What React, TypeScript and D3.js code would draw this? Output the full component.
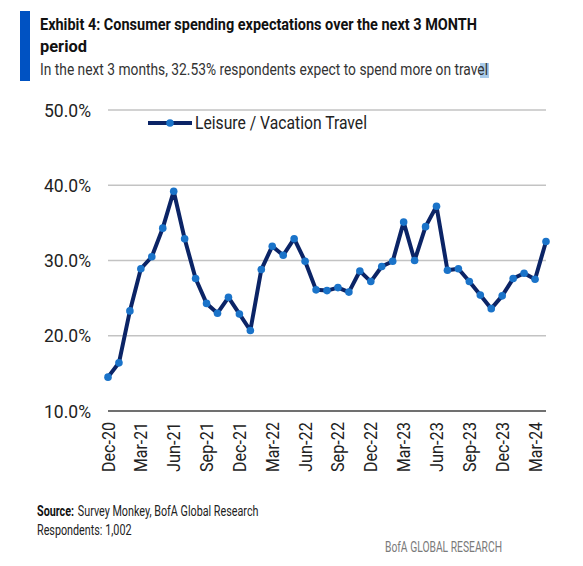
import React from "react";
import * as d3 from "d3";

const months = [
  "Dec-20",
  "Jan-21","Feb-21","Mar-21","Apr-21","May-21","Jun-21","Jul-21","Aug-21","Sep-21","Oct-21","Nov-21","Dec-21",
  "Jan-22","Feb-22","Mar-22","Apr-22","May-22","Jun-22","Jul-22","Aug-22","Sep-22","Oct-22","Nov-22","Dec-22",
  "Jan-23","Feb-23","Mar-23","Apr-23","May-23","Jun-23","Jul-23","Aug-23","Sep-23","Oct-23","Nov-23","Dec-23",
  "Jan-24","Feb-24","Mar-24","Apr-24",
];

const travelValues = [
  14.5,
  16.4, 23.3, 28.9, 30.5, 34.3, 39.2, 32.9, 27.6, 24.3, 23.0, 25.1, 22.9,
  20.7, 28.8, 31.9, 30.7, 32.9, 29.9, 26.1, 26.0, 26.4, 25.8, 28.6, 27.2,
  29.2, 29.9, 35.1, 30.0, 34.5, 37.2, 28.7, 28.9, 27.2, 25.4, 23.6, 25.3,
  27.6, 28.3, 27.5, 32.53,
];

const xTickLabels = [
  "Dec-20","Mar-21","Jun-21","Sep-21","Dec-21","Mar-22","Jun-22",
  "Sep-22","Dec-22","Mar-23","Jun-23","Sep-23","Dec-23","Mar-24",
];

const yTicks = [10, 20, 30, 40, 50];
const seriesName = "Leisure / Vacation Travel";

const titleLine1 = "Exhibit 4: Consumer spending expectations over the next 3 MONTH";
const titleLine2 = "period";
const subtitle = "In the next 3 months, 32.53% respondents expect to spend more on travel";

const LINE = "#0b2466";
const MARKER = "#1a73c9";
const FONT = "'Roboto', sans-serif";

export default function App() {
  const x = d3.scalePoint<string>().domain(months).range([108, 546]);
  const y = d3.scaleLinear().domain([10, 50]).range([411, 110]);

  const line = d3
    .line<number>()
    .x((_, i) => x(months[i]) as number)
    .y((d) => y(d));

  return (
    <svg
      width={583}
      height={566}
      style={{ position: "absolute", left: 0, top: 0, background: "#fff" }}
      fontFamily={FONT}
    >
      <rect x={0} y={0} width={583} height={566} fill="#fff" />
      {/* header */}
      <rect x={20} y={11} width={10} height={70} fill="#0052c2" />
      <text x={40} y={30} fontSize={17} fontWeight="bold" fill="#111" textLength={437} lengthAdjust="spacingAndGlyphs">
        {titleLine1}
      </text>
      <text x={40} y={52} fontSize={17} fontWeight="bold" fill="#111" textLength={47} lengthAdjust="spacingAndGlyphs">
        {titleLine2}
      </text>
      <rect x={480} y={63} width={9} height={15} fill="#a9cbea" />
      <text x={40} y={75} fontSize={16} fill="#333" textLength={448} lengthAdjust="spacingAndGlyphs">
        {subtitle}
      </text>

      {/* gridlines */}
      {yTicks.filter((t) => t !== 10).map((t) => (
        <line key={t} x1={108} x2={546} y1={y(t)} y2={y(t)} stroke="#c3c3c3" strokeWidth={1.5} />
      ))}
      <line x1={108} x2={546} y1={y(10)} y2={y(10)} stroke="#404040" strokeWidth={1.5} />

      {/* y labels */}
      {yTicks.map((t) => (
        <text key={t} x={91} y={y(t) + 6.5} textAnchor="end" fontSize={18} fill="#222" textLength={47} lengthAdjust="spacingAndGlyphs">
          {t.toFixed(1) + "%"}
        </text>
      ))}

      {/* x labels */}
      {xTickLabels.map((m) => {
        const px = (x(m) as number) + 6.5;
        return (
          <text key={m} transform={`translate(${px},422) rotate(-90)`} textAnchor="end" fontSize={17.5} fill="#222" textLength={50} lengthAdjust="spacingAndGlyphs">
            {m}
          </text>
        );
      })}

      {/* series */}
      <path d={line(travelValues) || ""} fill="none" stroke={LINE} strokeWidth={4} strokeLinejoin="round" />
      {travelValues.map((v, i) => (
        <circle key={i} cx={x(months[i]) as number} cy={y(v)} r={3.8} fill={MARKER} />
      ))}

      {/* legend */}
      <line x1={148} x2={192} y1={123} y2={123} stroke={LINE} strokeWidth={4} />
      <circle cx={170} cy={123} r={3.8} fill={MARKER} />
      <text x={195} y={129} fontSize={18} fill="#222" textLength={172} lengthAdjust="spacingAndGlyphs">
        {seriesName}
      </text>

      {/* footer */}
      <g transform="translate(37,0) scale(0.77,1)">
        <text x={0} y={516} fontSize={14} fontWeight="bold" fill="#111">
          Source:
        </text>
        <text x={53} y={516} fontSize={14} fill="#222">
          Survey Monkey, BofA Global Research
        </text>
        <text x={0} y={535} fontSize={14} fill="#222">
          Respondents: 1,002
        </text>
      </g>
      <text x={502} y={552} fontSize={14} fill="#7a7a7a" textAnchor="end" textLength={117} lengthAdjust="spacingAndGlyphs">
        BofA GLOBAL RESEARCH
      </text>
    </svg>
  );
}
